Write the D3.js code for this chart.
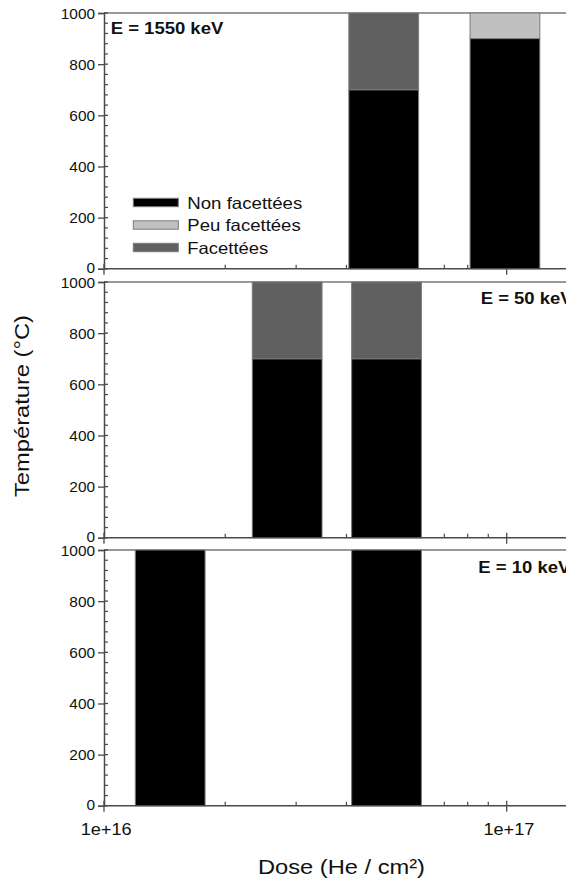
<!DOCTYPE html>
<html><head><meta charset="utf-8">
<script src="https://cdn.jsdelivr.net/npm/d3@7"></script>
<style>
body{margin:0;background:#fff}
svg{display:block}
text{font-family:"Liberation Sans",Arial,Helvetica,sans-serif;fill:#111}
</style>
</head><body>
<svg id="c" width="566" height="879"></svg>
<script>
// ---------- data ----------
const categories = ["Non facettées", "Peu facettées", "Facettées"];
const panelLabels = ["E = 1550 keV", "E = 50 keV", "E = 10 keV"];
// dose (He/cm²) at the centre of each bar
const doses1550 = [4.95e16, 9.9e16];
const doses50   = [2.85e16, 5.03e16];
const doses10   = [1.46e16, 5.03e16];
// temperature (°C) covered by each class, stacked from 0
const non1550 = [700, 900];
const peu1550 = [0, 100];
const fac1550 = [300, 0];
const non50 = [700, 700];
const peu50 = [0, 0];
const fac50 = [300, 300];
const non10 = [1000, 1000];
const peu10 = [0, 0];
const fac10 = [0, 0];
const yTickValues = [0, 200, 400, 600, 800, 1000];
const xTickValues = [1e16, 1e17];
const xTickLabels = ["1e+16", "1e+17"];
const xTitle = "Dose (He / cm²)";
const yTitle = "Température (°C)";

const panelData = [
  {label: panelLabels[0], doses: doses1550, series: [non1550, peu1550, fac1550]},
  {label: panelLabels[1], doses: doses50,   series: [non50, peu50, fac50]},
  {label: panelLabels[2], doses: doses10,   series: [non10, peu10, fac10]}
];

// ---------- layout / style ----------
const W = 566;
const colors = ["#000000", "#c0c0c0", "#606060"];
const barStroke = "#7a7a7a";
const axisColor = "#4a4a4a";
const SX = 1.1;               // horizontal stretch of the original lettering
const halfLog = 0.0866;       // half bar width in decades
const tops = [13, 282, 550];
const ph = 255.8;
const labelPos = [{x: 110.7, dy: 21}, {x: 480.7, dy: 21.5}, {x: 478.3, dy: 23.3}];
const labelLen = [112.6, 92, 92];

const svg = d3.select("#c");
const x = d3.scaleLog().domain([1e16, 1.5e17]).range([104, 104 + 402.7 * Math.log10(15)]);
const minorX = [];
for (let m = 2; m <= 9; m++) minorX.push(m * 1e16);
const minorY = d3.range(0, 1001, 40).filter(v => v % 200 !== 0);

panelData.forEach((p, i) => {
  const top = tops[i], bottom = top + ph;
  const y = d3.scaleLinear().domain([0, 1000]).range([bottom, top]);
  const g = svg.append("g");

  // top frame line
  g.append("line").attr("x1", x(1e16)).attr("x2", W + 20)
    .attr("y1", top).attr("y2", top)
    .attr("stroke", "#777").attr("stroke-width", 1.4);

  // x minor ticks (inward)
  g.selectAll(".xm").data(minorX).join("line")
    .attr("x1", d => x(d)).attr("x2", d => x(d))
    .attr("y1", bottom).attr("y2", bottom - 4)
    .attr("stroke", axisColor).attr("stroke-width", 1.2);
  // x major ticks (crossing)
  g.selectAll(".xM").data(xTickValues).join("line")
    .attr("x1", d => x(d)).attr("x2", d => x(d))
    .attr("y1", bottom - 5).attr("y2", bottom + 6)
    .attr("stroke", axisColor).attr("stroke-width", 1.3);
  // y minor ticks (inward)
  g.selectAll(".ym").data(minorY).join("line")
    .attr("x1", x(1e16)).attr("x2", x(1e16) + 4)
    .attr("y1", d => y(d)).attr("y2", d => y(d))
    .attr("stroke", axisColor).attr("stroke-width", 1.2);
  // y major inner part
  g.selectAll(".yM").data(yTickValues).join("line")
    .attr("x1", x(1e16)).attr("x2", x(1e16) + 4)
    .attr("y1", d => y(d)).attr("y2", d => y(d))
    .attr("stroke", axisColor).attr("stroke-width", 1.3);

  // stacked bars
  const rows = p.doses.map((d, j) => {
    const r = {dose: d};
    categories.forEach((c, k) => r[c] = p.series[k][j]);
    return r;
  });
  const stacked = d3.stack().keys(categories)(rows);
  stacked.forEach((s, k) => {
    g.selectAll(null).data(s.filter(d => d[1] - d[0] > 0)).join("rect")
      .attr("x", d => x(d.data.dose / Math.pow(10, halfLog)))
      .attr("width", d => x(d.data.dose * Math.pow(10, halfLog)) - x(d.data.dose / Math.pow(10, halfLog)))
      .attr("y", d => y(d[1]))
      .attr("height", d => y(d[0]) - y(d[1]))
      .attr("fill", colors[k])
      .attr("stroke", barStroke).attr("stroke-width", 1);
  });

  // y axis with labels
  const ya = g.append("g").attr("transform", `translate(${x(1e16)},0)`)
    .call(d3.axisLeft(y).tickValues(yTickValues).tickFormat(d3.format("d"))
      .tickSize(6).tickPadding(3));
  ya.select(".domain").attr("stroke", axisColor).attr("stroke-width", 1.5);
  ya.selectAll(".tick line").attr("stroke", axisColor).attr("stroke-width", 1.3);
  ya.selectAll(".tick text")
    .attr("font-size", 14).attr("fill", "#111")
    .attr("font-family", '"Liberation Sans",Arial,sans-serif')
    .attr("x", -9 / SX)
    .attr("dy", d => d === 0 ? "0.25em" : (d === 1000 ? "0.42em" : "0.36em"))
    .attr("transform", `scale(${SX},1)`);

  // x axis line
  g.append("line").attr("x1", x(1e16)).attr("x2", W + 20)
    .attr("y1", bottom).attr("y2", bottom)
    .attr("stroke", axisColor).attr("stroke-width", 1.5);

  // x tick labels on the bottom panel only
  if (i === panelData.length - 1) {
    const xa = g.append("g").attr("transform", `translate(0,${bottom})`)
      .call(d3.axisBottom(x).tickValues(xTickValues)
        .tickFormat((d, j) => xTickLabels[j]).tickSize(0));
    xa.select(".domain").remove();
    xa.selectAll(".tick text")
      .attr("font-size", 16.5).attr("fill", "#111")
      .attr("font-family", '"Liberation Sans",Arial,sans-serif')
      .attr("y", 29).attr("dy", null)
      .attr("x", 1.5)
      .attr("transform", `scale(${SX},1)`);
  }

  // panel label
  g.append("text")
    .attr("x", labelPos[i].x).attr("y", top + labelPos[i].dy)
    .attr("font-size", 16).attr("font-weight", "bold")
    .attr("textLength", labelLen[i]).attr("lengthAdjust", "spacingAndGlyphs")
    .text(p.label);

  // legend in the first panel
  if (i === 0) {
    const lg = g.append("g");
    const rowsY = [202.5, 225, 247.5];
    const lens = [115, 113.4, 81];
    categories.forEach((c, k) => {
      lg.append("rect").attr("x", 133.3).attr("y", rowsY[k] - 4.2)
        .attr("width", 45).attr("height", 8.4)
        .attr("fill", colors[k]).attr("stroke", barStroke).attr("stroke-width", 1);
      lg.append("text").attr("x", 187.3).attr("y", rowsY[k] + 6)
        .attr("font-size", 16.5)
        .attr("textLength", lens[k]).attr("lengthAdjust", "spacingAndGlyphs")
        .text(c);
    });
  }
});

// axis titles
svg.append("text")
  .attr("transform", "translate(29,406) rotate(-90)")
  .attr("text-anchor", "middle").attr("font-size", 21)
  .attr("textLength", 182).attr("lengthAdjust", "spacingAndGlyphs")
  .text(yTitle);
svg.append("text")
  .attr("x", 341.5).attr("y", 874)
  .attr("text-anchor", "middle").attr("font-size", 21)
  .attr("textLength", 167).attr("lengthAdjust", "spacingAndGlyphs")
  .text(xTitle);
</script>
</body></html>
